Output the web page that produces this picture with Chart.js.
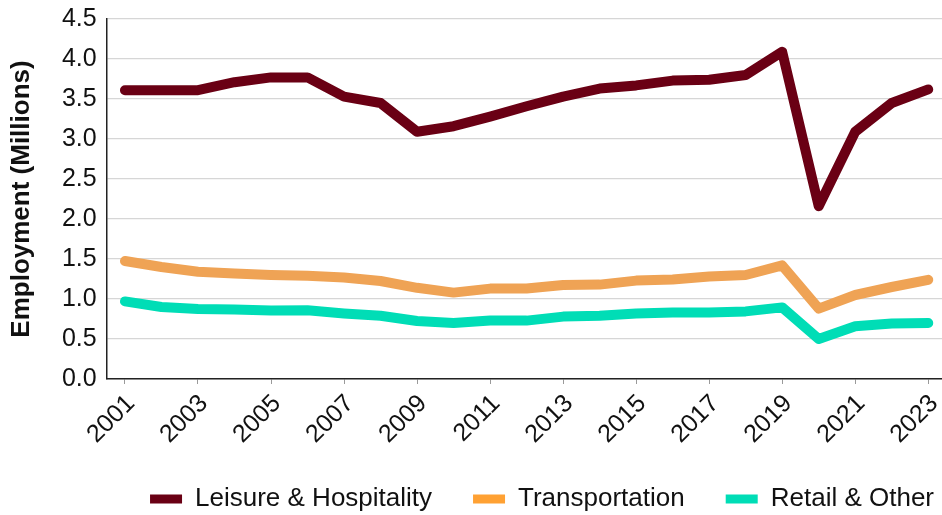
<!DOCTYPE html>
<html>
<head>
<meta charset="utf-8">
<script src="https://cdn.jsdelivr.net/npm/chart.js@4.4.1/dist/chart.umd.min.js"></script>
<style>
  html, body { margin: 0; padding: 0; background: #ffffff; overflow: hidden; }
  #wrap { width: 975px; height: 522px; }
</style>
</head>
<body>
<div id="wrap"><canvas id="c" width="975" height="522"></canvas></div>
<script>
const years = ['2001','2002','2003','2004','2005','2006','2007','2008','2009','2010','2011','2012',
               '2013','2014','2015','2016','2017','2018','2019','2020','2021','2022','2023'];
const leisureHospitality = [3.61,3.61,3.61,3.71,3.77,3.77,3.53,3.45,3.09,3.16,3.28,3.41,
                            3.53,3.63,3.67,3.73,3.74,3.80,4.09,2.16,3.09,3.45,3.62];
const transportation = [1.475,1.40,1.34,1.32,1.30,1.29,1.27,1.225,1.14,1.08,1.13,1.13,
                        1.175,1.18,1.23,1.245,1.28,1.30,1.42,0.88,1.05,1.15,1.24];
const retailOther = [0.97,0.90,0.875,0.87,0.855,0.86,0.82,0.79,0.725,0.70,0.73,0.73,
                     0.78,0.79,0.82,0.83,0.83,0.845,0.895,0.50,0.66,0.695,0.70];
const seriesNames = ['Leisure & Hospitality', 'Transportation', 'Retail & Other'];
const yAxisTitle = 'Employment (Millions)';

const lineColors = ['#6A0014', '#EFA355', '#00DDB6'];
const legendColors = ['#6A0014', '#FFA133', '#00DDB6'];
const FONT = '"Liberation Sans", Arial, Helvetica, sans-serif';
const CANVAS_W = 975;
const PLOT_RIGHT = 946.5;

const mk = (label, data, i) => ({
  label, data,
  borderColor: lineColors[i],
  backgroundColor: legendColors[i],
  borderWidth: 10,
  borderCapStyle: 'round',
  borderJoinStyle: 'round',
  pointRadius: 0,
  pointHoverRadius: 0,
  tension: 0,
  fill: false
});

new Chart(document.getElementById('c'), {
  type: 'line',
  data: {
    labels: years,
    datasets: [
      mk(seriesNames[0], leisureHospitality, 0),
      mk(seriesNames[1], transportation, 1),
      mk(seriesNames[2], retailOther, 2)
    ]
  },
  options: {
    responsive: false,
    animation: false,
    devicePixelRatio: 1,
    layout: { padding: { top: 19, left: 0, right: 0, bottom: 0 } },
    plugins: {
      tooltip: { enabled: false },
      legend: {
        position: 'bottom',
        align: 'end',
        labels: {
          font: { family: FONT, size: 26 },
          color: '#111',
          boxWidth: 32,
          boxHeight: 9,
          padding: 41,
          generateLabels: (chart) => {
            const items = Chart.defaults.plugins.legend.labels.generateLabels(chart);
            return items.map((it, i) => Object.assign(it, {
              fillStyle: legendColors[i], strokeStyle: legendColors[i], lineWidth: 0
            }));
          }
        }
      }
    },
    scales: {
      x: {
        type: 'category',
        offset: true,
        border: { display: true, color: '#222', width: 1.5 },
        grid: {
          display: true,
          drawOnChartArea: false,
          drawTicks: true,
          tickLength: 5,
          tickWidth: 1,
          tickColor: (ctx) => (ctx.index % 2 === 0 ? '#9a9a9a' : 'rgba(0,0,0,0)')
        },
        ticks: {
          autoSkip: false,
          minRotation: 45,
          maxRotation: 45,
          padding: 5,
          labelOffset: 6,
          color: '#111',
          font: { family: FONT, size: 25 },
          callback: (v, i) => (i % 2 === 0 ? years[i] : '')
        },
        afterFit: (scale) => {
          scale.height = 66;
          scale.paddingLeft = 0;
          scale.paddingRight = CANVAS_W - PLOT_RIGHT;
        }
      },
      y: {
        min: 0,
        max: 4.5,
        border: { display: true, color: '#222', width: 1.5 },
        grid: { color: '#d6d6d6', lineWidth: 1.2, drawTicks: false },
        ticks: {
          autoSkip: false,
          stepSize: 0.5,
          padding: 10,
          color: '#111',
          font: { family: FONT, size: 25 },
          callback: (v) => Number(v).toFixed(1)
        },
        title: {
          display: true,
          text: yAxisTitle,
          color: '#111',
          font: { family: FONT, size: 26, weight: 'bold' },
          padding: { top: 6, bottom: 0 }
        },
        afterFit: (scale) => {
          scale.width = 106.7;
          scale.paddingTop = 0;
          scale.paddingBottom = 0;
        }
      }
    }
  }
});
</script>
</body>
</html>
